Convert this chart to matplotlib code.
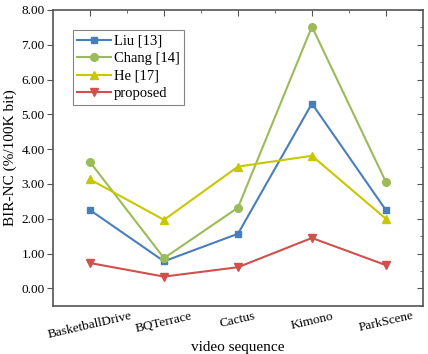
import numpy as np
import matplotlib.pyplot as plt
from matplotlib.ticker import MultipleLocator, FixedLocator

plt.rcParams['font.family'] = ['Liberation Serif', 'DejaVu Serif']

# BIR-NC per test sequence
sequences = ['BasketballDrive', 'BQTerrace', 'Cactus', 'Kimono', 'ParkScene']
liu = [2.25, 0.78, 1.57, 5.31, 2.25]
chang = [3.63, 0.87, 2.32, 7.52, 3.06]
he = [3.13, 1.97, 3.50, 3.81, 2.00]
proposed = [0.73, 0.34, 0.61, 1.45, 0.67]

fig = plt.figure(figsize=(4.28, 3.54), dpi=100)
ax = fig.add_axes([0.124, 0.136, 0.864, 0.836])

x = np.arange(len(sequences))
ax.plot(x, liu, color='#4a7ebb', marker='s', ms=5, lw=1.5, label='Liu [13]')
ax.plot(x, chang, color='#9bbb59', marker='o', ms=5.5, lw=1.5, label='Chang [14]')
ax.plot(x, he, color='#c8c800', marker='^', ms=6, lw=1.5, label='He [17]')
ax.plot(x, proposed, color='#d0504d', marker='v', ms=6, lw=1.5, label='proposed')

ax.set_xlim(-0.5, 4.5)
ax.set_ylim(-0.5, 8.0)
ax.set_xticks(x)
ax.set_xticklabels(sequences, rotation=13, fontsize=9.5)
ax.yaxis.set_major_locator(MultipleLocator(1.0))
ax.yaxis.set_major_formatter(plt.FormatStrFormatter('%.2f'))
ax.tick_params(axis='y', labelsize=9.5, direction='out', length=4, pad=2, color='#555555')
ax.tick_params(axis='x', length=0, pad=3)

for s in ax.spines.values():
    s.set_color('#555555')
    s.set_linewidth(1.2)

# inward ticks on the top and right edges
top = ax.secondary_xaxis('top')
top.set_xticks(x)
top.xaxis.set_minor_locator(FixedLocator(x[:-1] + 0.5))
top.tick_params(which='major', direction='in', length=4, labeltop=False, color='#555555')
top.tick_params(which='minor', direction='in', length=2, color='#555555')
top.spines['top'].set_visible(False)

right = ax.secondary_yaxis('right')
right.yaxis.set_major_locator(MultipleLocator(1.0))
right.yaxis.set_minor_locator(MultipleLocator(0.5))
right.tick_params(which='major', direction='in', length=4, labelright=False, color='#555555')
right.tick_params(which='minor', direction='in', length=2, color='#555555')
right.spines['right'].set_visible(False)

ax.set_xlabel('video sequence', fontsize=11, labelpad=0)
ax.set_ylabel('BIR-NC (%/100K bit)', fontsize=11, labelpad=3)

leg = ax.legend(loc='upper left', bbox_to_anchor=(0.054, 0.932), fontsize=10.5,
                frameon=True, fancybox=False, handlelength=2.3, borderaxespad=0,
                handletextpad=0.2, borderpad=0.3, labelspacing=0.3)
leg.get_frame().set_edgecolor('#666666')
leg.get_frame().set_linewidth(0.8)

fig.savefig('out.png', dpi=100)
